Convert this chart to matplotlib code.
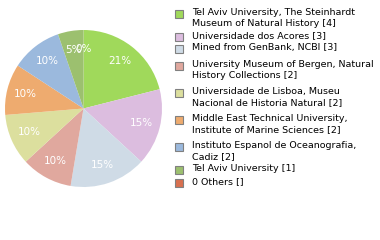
import matplotlib.pyplot as plt
from matplotlib.patches import Rectangle

labels = [
    "Tel Aviv University, The Steinhardt\nMuseum of Natural History [4]",
    "Universidade dos Acores [3]",
    "Mined from GenBank, NCBI [3]",
    "University Museum of Bergen, Natural\nHistory Collections [2]",
    "Universidade de Lisboa, Museu\nNacional de Historia Natural [2]",
    "Middle East Technical University,\nInstitute of Marine Sciences [2]",
    "Instituto Espanol de Oceanografia,\nCadiz [2]",
    "Tel Aviv University [1]",
    "0 Others []",
]
counts = [4, 3, 3, 2, 2, 2, 2, 1, 0]
colors = ["#a0d95b", "#dcbddf", "#cfdbe6", "#e0a89e", "#dcdf9e",
          "#eeab6f", "#9bb9dd", "#9cc06f", "#d8704f"]
legend_y = [14, 37, 49, 66, 93, 120, 147, 170, 183]

W, H = 380, 240
fig = plt.figure(figsize=(W / 100, H / 100), dpi=100)

total = sum(counts)
pct = [f"{int(100 * c / total)}%" for c in counts]

ax = fig.add_axes([5 / W, (H - 187) / H, 157 / W, 157 / H])
wedges, texts = ax.pie(counts, colors=colors, startangle=90, counterclock=False,
                       labels=pct, labeldistance=0.76,
                       textprops=dict(color="white", fontsize=7.5, ha="center", va="center"),
                       wedgeprops=dict(linewidth=0))
ax.set_xlim(-1, 1)
ax.set_ylim(-1, 1)
ax.set_aspect("equal")

for y, lab, col in zip(legend_y, labels, colors):
    fig.patches.append(Rectangle(((175) / W, (H - y - 4) / H), 8 / W, 8 / H,
                                 transform=fig.transFigure, facecolor=col,
                                 edgecolor="#808080", linewidth=0.8))
    fig.text(192 / W, (H - y + 6) / H, lab, fontsize=6.8, va="top", ha="left",
             family="DejaVu Sans", linespacing=1.25, color="black")

fig.savefig("out.png", dpi=100)
